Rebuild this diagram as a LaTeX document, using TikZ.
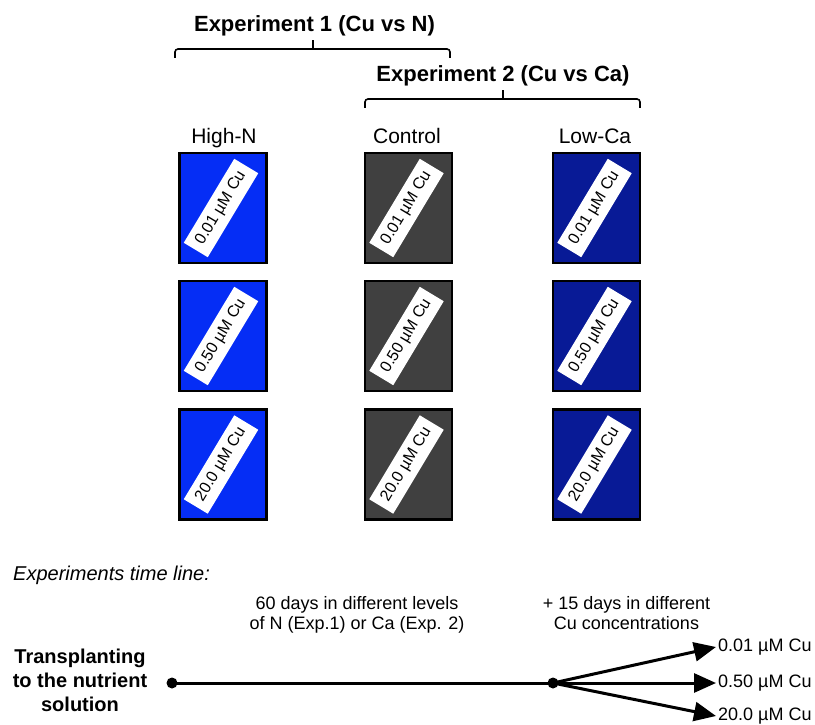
\documentclass[tikz,border=0pt]{standalone}
\usepackage{fontspec}
\setmainfont{Liberation Sans}
\usetikzlibrary{arrows.meta}

\definecolor{highN}{RGB}{5,45,245}
\definecolor{ctrl}{RGB}{64,64,64}
\definecolor{lowCa}{RGB}{8,26,150}

\tikzset{
    tank/.style={draw=black, line width=2.4pt, minimum width=87pt, minimum height=110pt, inner sep=0pt},
    conc/.style={fill=white, rotate=59, minimum width=98pt, minimum height=28pt, inner sep=0pt, font=\fontsize{16}{18}\selectfont},
    exphead/.style={anchor=base, font=\fontsize{22}{26}\selectfont\bfseries},
    colhead/.style={anchor=base, font=\fontsize{21}{25}\selectfont},
    brace/.style={line width=1.6pt, rounded corners=3pt},
    stage/.style={anchor=north, align=center, inner sep=0pt, font=\fontsize{18}{20}\selectfont},
    dot/.style={circle, fill=black, inner sep=0pt, minimum size=11pt},
    cuend/.style={anchor=west, inner sep=2pt, font=\fontsize{18}{20}\selectfont},
    branch/.style={line width=3pt, -{Triangle[length=22pt, width=19pt]}}
}

\begin{document}
\begin{tikzpicture}[x=1pt, y=-1pt]
    \useasboundingbox (0,0) rectangle (815,725);

    % Experiment headings and their braces
    \node[exphead] (exp1) at (314.5,32) {Experiment 1 (Cu vs N)};
    \draw[brace] (175,58) -- (175,49) -- (450,49) -- (450,58);
    \draw[brace] (313,49) -- (313,40);

    \node[exphead] (exp2) at (503,82) {Experiment 2 (Cu vs Ca)};
    \draw[brace] (365,108) -- (365,99) -- (640,99) -- (640,108);
    \draw[brace] (503,99) -- (503,90);

    % Column headings
    \node[colhead] (hn) at (224,143) {High-N};
    \node[colhead] (ct) at (407,143) {Control};
    \node[colhead] (lc) at (595,143) {Low-Ca};

    % High-N column
    \node[tank, fill=highN] (hn1) at (223,208) {};
    \node[tank, fill=highN] (hn2) at (223,336) {};
    \node[tank, fill=highN] (hn3) at (223,464.5) {};
    \node[conc] (hn1c) at ([xshift=-2pt]hn1.center) {0.01 µM Cu};
    \node[conc] (hn2c) at ([xshift=-2pt]hn2.center) {0.50 µM Cu};
    \node[conc] (hn3c) at ([xshift=-2pt]hn3.center) {20.0 µM Cu};

    % Control column
    \node[tank, fill=ctrl] (ct1) at (408.5,208) {};
    \node[tank, fill=ctrl] (ct2) at (408.5,336) {};
    \node[tank, fill=ctrl] (ct3) at (408.5,464.5) {};
    \node[conc] (ct1c) at ([xshift=-2pt]ct1.center) {0.01 µM Cu};
    \node[conc] (ct2c) at ([xshift=-2pt]ct2.center) {0.50 µM Cu};
    \node[conc] (ct3c) at ([xshift=-2pt]ct3.center) {20.0 µM Cu};

    % Low-Ca column
    \node[tank, fill=lowCa] (lc1) at (596.5,208) {};
    \node[tank, fill=lowCa] (lc2) at (596.5,336) {};
    \node[tank, fill=lowCa] (lc3) at (596.5,464.5) {};
    \node[conc] (lc1c) at ([xshift=-2pt]lc1.center) {0.01 µM Cu};
    \node[conc] (lc2c) at ([xshift=-2pt]lc2.center) {0.50 µM Cu};
    \node[conc] (lc3c) at ([xshift=-2pt]lc3.center) {20.0 µM Cu};

    % Time line
    \node[anchor=base west, inner sep=0pt, font=\fontsize{20}{24}\selectfont\itshape] (tl) at (13,580) {Experiments time line:};
    \node[anchor=north, align=center, inner sep=0pt, font=\fontsize{20}{24}\selectfont\bfseries] (tp) at (80,649) {Transplanting\\to the nutrient\\solution};
    \node[stage] (st1) at (357,596) {60 days in different levels\\of N (Exp.1) or Ca (Exp. 2)};
    \node[stage] (st2) at (626.5,596) {+ 15 days in different\\Cu concentrations};

    \node[dot] (t0) at (172,683) {};
    \node[dot] (t1) at (553,683) {};
    \draw[line width=3pt] (t0.center) -- (t1.center);

    \node[cuend] (cu1) at (716,647) {0.01 µM Cu};
    \node[cuend] (cu2) at (716,683) {0.50 µM Cu};
    \node[cuend] (cu3) at (716,716) {20.0 µM Cu};
    \draw[branch] (t1.center) -- (cu1.west);
    \draw[branch] (t1.center) -- (cu2.west);
    \draw[branch] (t1.center) -- (cu3.west);
\end{tikzpicture}
\end{document}
